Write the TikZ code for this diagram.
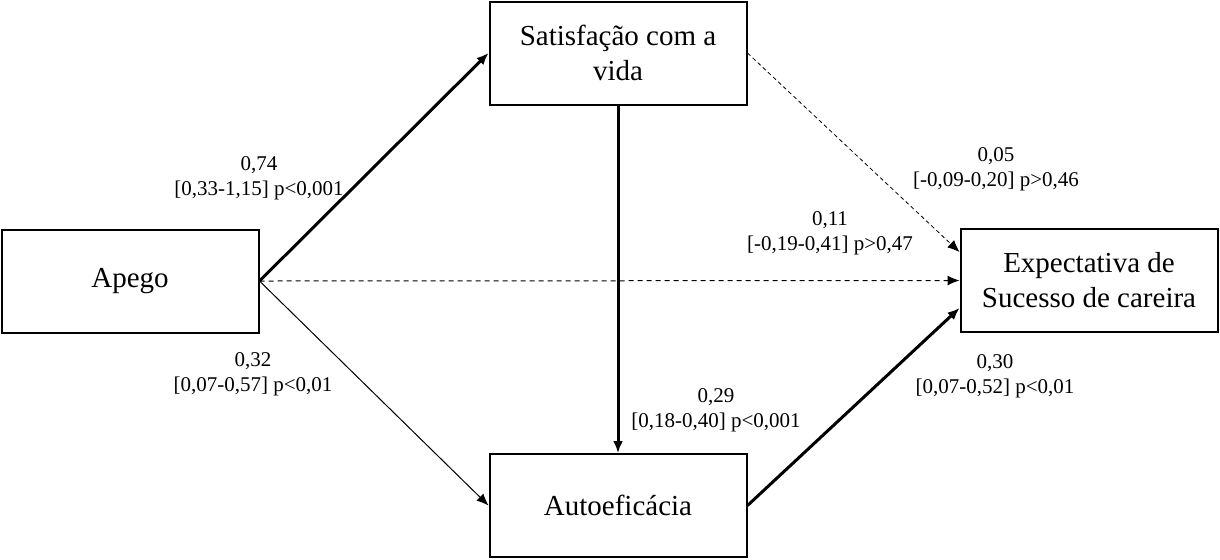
\documentclass[tikz,border=0pt]{standalone}
\usepackage{fontspec}
\setmainfont{Liberation Serif}
\usepackage{tikz}
\usetikzlibrary{arrows.meta,positioning}

\begin{document}
\begin{tikzpicture}[x = 0.5pt, y = -0.5pt,
caixa/.style = {draw, line width = 1pt, shape = rectangle, minimum width = 128.5pt, minimum height = 51.5pt, inner sep = 0pt, align = center, font = \fontsize{14.5}{17.5}\selectfont},
forte/.style = {line width = 1.5pt, -{Latex[length = 6pt, width = 5pt]}},
fraca/.style = {line width = 0.5pt, -{Latex[length = 6pt, width = 5pt]}},
nula/.style = {line width = 0.5pt, dash pattern = on 2.5pt off 2pt, -{Latex[length = 6pt, width = 5pt]}}]
\useasboundingbox (0,0) rectangle (1220,559);
\node[caixa] (1) at (130,281) {Apego};
\node[caixa] (2) at (618,53) {Satisfação com a\\vida};
\node[caixa, below = 173.75pt of 2] (3) {Autoeficácia};
\node[caixa] (4) at (1089,280.5) {Expectativa de\\Sucesso de careira};
\coordinate (4a) at ([yshift = 14.25pt]4.west);
\coordinate (4b) at ([yshift = -13.75pt]4.west);
\draw[forte] (1.east) -- (2.west);
\draw[fraca] (1.east) -- (3.west);
\draw[nula] (1.east) -- (4.west);
\draw[forte] (2.south) -- (3.north);
\draw[nula, line width = 0.4pt, dash pattern = on 2pt off 1.5pt] (2.east) -- (4a);
\draw[forte] (3.east) -- (4b);
\begin{scope}[nodes = {align = center, inner sep = 0pt, font = \fontsize{10.5}{12.5}\selectfont}]
\node (12) at (259,178) {0,74\\{[}0,33-1,15{]} p<0,001};
\node (13) at (253,374) {0,32\\{[}0,07-0,57{]} p<0,01};
\node (24) at (996,169) {0,05\\{[}-0,09-0,20{]} p>0,46};
\node (14) at (830,233) {0,11\\{[}-0,19-0,41{]} p>0,47};
\node (34) at (995,376) {0,30\\{[}0,07-0,52{]} p<0,01};
\node (23) at (716,410) {0,29\\{[}0,18-0,40{]} p<0,001};
\end{scope}
\end{tikzpicture}
\end{document}
